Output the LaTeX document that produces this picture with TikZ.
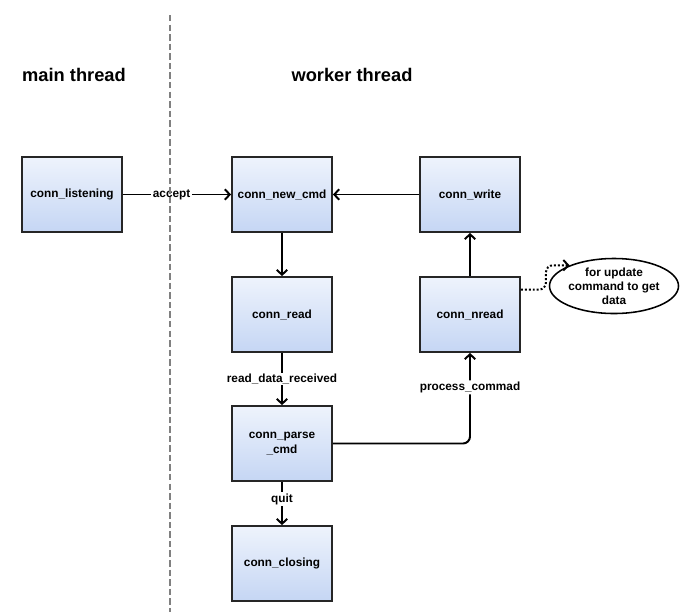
\documentclass[tikz,border=0pt]{standalone}
\usepackage{fontspec}
\setmainfont{Liberation Sans}
\usetikzlibrary{arrows.meta,shapes.geometric}
\definecolor{boxtop}{HTML}{EEF3FC}
\definecolor{boxbot}{HTML}{C5D6F4}
\begin{document}
\begin{tikzpicture}[x=0.025cm,y=-0.025cm,font=\bfseries\fontsize{8.4}{10}\selectfont,
state/.style={rectangle,draw=black!85,line width=1.3pt,top color=boxtop,bottom color=boxbot,minimum width=2.5cm,minimum height=1.875cm,inner sep=0,align=center},
edge/.style={line width=1.4pt,-{Straight Barb[length=3.5pt,width=7.5pt]}},
lbl/.style={fill=white,inner sep=1pt},
title/.style={font=\bfseries\fontsize{13}{15}\selectfont},
note/.style={ellipse,draw,line width=1.1pt,fill=white,minimum width=2.7cm,minimum height=1.375cm,inner sep=0,align=center}]
\useasboundingbox(0,0)rectangle(681,612);
\node[title](mt)at(74,75){main thread};\node[title](wt)at(352,75){worker thread};
\node[state](lst)at(72,194.5){conn\_listening};
\node[state](new)at(282,194.5){conn\_new\_cmd};
\node[state](wr)at(470,194.5){conn\_write};
\node[state](rd)at(282,314.5){conn\_read};
\node[state](nrd)at(470,314.5){conn\_nread};
\node[state](prs)at(282,443.5){conn\_parse\\\_cmd};
\node[state](cls)at(282,563.5){conn\_closing};
\node[note](upd)at(614,286){for update\\command to get\\data};
\draw[edge](lst)--node[lbl,pos=0.45]{accept}(new);
\draw[edge](wr)--(new);
\draw[edge](new)--(rd);
\draw[edge](rd)--node[lbl]{read\_data\_received}(prs);
\draw[edge](prs)--node[lbl,pos=0.4]{quit}(cls);
\draw[edge,rounded corners=5pt](prs)-|node[lbl,pos=0.81]{process\_commad}(nrd);
\draw[edge](nrd)--(wr);
\draw[edge,dash pattern=on 1.4pt off 1.4pt,rounded corners=5pt](nrd.26)--++(25,0)|-(upd.155);
\draw[gray,line width=1pt,dash pattern=on 4.6pt off 2.2pt](170,15)--(170,612);
\end{tikzpicture}
\end{document}
